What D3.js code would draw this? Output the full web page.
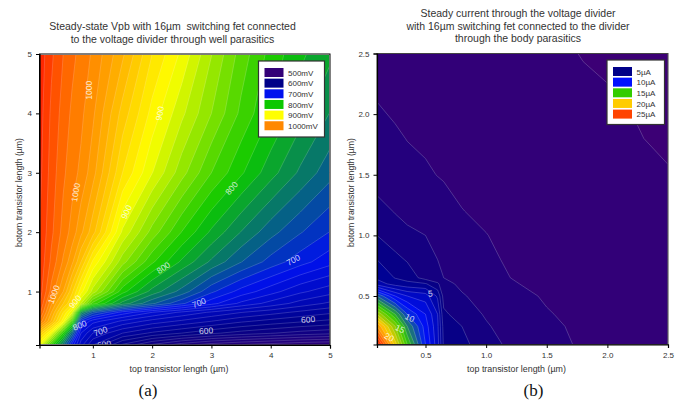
<!DOCTYPE html>
<html>
<head>
<meta charset="utf-8">
<script src="https://d3js.org/d3.v7.min.js"></script>
<style>
  html, body { margin: 0; padding: 0; background: #fff; }
  svg { display: block; }
  text { font-family: "Liberation Sans", sans-serif; fill: #333; white-space: pre; }
</style>
</head>
<body>
<div></div>
<script>
var width = 683;
var height = 403;

// panel (a): Vpb in mV, rows go from bottom length 0.1 up to 5
var topLengthsA = [0.1, 0.3, 0.5, 0.65, 0.8, 1, 1.5, 2, 2.5, 3, 3.5, 4, 4.5, 5];
var bottomLengthsA = [0.1, 0.3, 0.5, 0.65, 0.8, 1, 1.5, 2, 3, 4, 5];
var vpbValues = [
  895, 815, 750, 695, 655, 625, 585, 560, 542, 530, 523, 518, 513, 510,
  945, 895, 810, 745, 675, 650, 625, 610, 600, 590, 582, 576, 570, 566,
  1010, 960, 905, 825, 705, 680, 660, 645, 635, 625, 615, 608, 602, 597,
  1030, 975, 925, 890, 770, 730, 695, 675, 660, 648, 638, 630, 622, 615,
  1040, 990, 950, 925, 875, 820, 770, 740, 715, 692, 672, 658, 645, 635,
  1045, 1008, 975, 940, 905, 870, 805, 770, 745, 715, 695, 680, 665, 655,
  1048, 1022, 998, 978, 950, 910, 855, 815, 785, 760, 738, 720, 705, 692,
  1050, 1028, 1008, 995, 978, 955, 885, 845, 812, 785, 762, 742, 726, 712,
  1054, 1032, 1015, 1005, 997, 980, 925, 888, 855, 825, 802, 780, 760, 742,
  1056, 1035, 1020, 1010, 1003, 990, 945, 908, 878, 850, 822, 800, 780, 762,
  1058, 1040, 1025, 1016, 1008, 998, 965, 925, 897, 863, 832, 808, 790, 778
];
var levelsA = d3.range(475, 1075, 12.5);
var colorStopsA = [500, 600, 700, 800, 900, 1000, 1060];
var ticksA = [1, 2, 3, 4, 5];
var legendNamesA = ["500mV", "600mV", "700mV", "800mV", "900mV", "1000mV"];
var legendStopsA = [500, 600, 700, 800, 900, 1000];
var labelsA = [
  [0.93, 4.39, "1000"], [0.71, 2.67, "1000"], [0.34, 0.95, "1000"],
  [2.13, 4.0, "900"], [1.57, 2.34, "900"], [0.7, 0.83, "900"],
  [3.34, 2.74, "800"], [2.19, 1.4, "800"], [0.78, 0.43, "800"],
  [4.38, 1.53, "700"], [2.79, 0.81, "700"], [1.13, 0.33, "700"],
  [4.63, 0.53, "600"], [2.91, 0.34, "600"], [1.19, 0.11, "600"]
];

// panel (b): divider current in uA
var topLengthsB = [0.1, 0.25, 0.35, 0.5, 0.6, 0.65, 0.8, 1, 1.2, 1.5, 1.8, 2.1, 2.5];
var bottomLengthsB = [0.1, 0.25, 0.35, 0.5, 0.6, 0.65, 0.8, 1, 1.2, 1.5, 1.8, 2.1, 2.5];
var currentValues = [
  27, 19.5, 15, 10, 7.4, 4.8, 4.3, 3.4, 2.8, 2.25, 1.9, 1.75, 1.6,
  22, 17, 13, 9.5, 7.2, 4.6, 4.0, 3.1, 2.6, 2.15, 1.85, 1.7, 1.55,
  18, 14, 11, 9, 7, 4.2, 3.5, 2.9, 2.45, 2.05, 1.8, 1.65, 1.5,
  12, 9, 8, 7.5, 5.8, 3.6, 3.1, 2.6, 2.25, 1.92, 1.75, 1.6, 1.45,
  6.5, 5.6, 5.3, 5.1, 4.2, 3.3, 2.8, 2.4, 2.05, 1.85, 1.7, 1.55, 1.4,
  5.8, 4.95, 4.6, 3.6, 3.2, 3.0, 2.7, 2.3, 2.0, 1.8, 1.68, 1.52, 1.38,
  5, 4.3, 3.9, 3.3, 3, 2.8, 2.5, 2.15, 1.9, 1.7, 1.6, 1.45, 1.32,
  4, 3.4, 3.15, 3, 2.7, 2.6, 2.3, 2.02, 1.8, 1.6, 1.5, 1.35, 1.22,
  3.3, 2.95, 2.8, 2.6, 2.4, 2.3, 2.02, 1.85, 1.7, 1.52, 1.38, 1.25, 1.15,
  2.6, 2.35, 2.22, 2.12, 1.98, 1.93, 1.8, 1.65, 1.55, 1.38, 1.25, 1.15, 1.02,
  2.3, 2.1, 1.98, 1.85, 1.75, 1.7, 1.6, 1.5, 1.4, 1.28, 1.18, 1.05, 0.95,
  2.0, 1.85, 1.75, 1.65, 1.58, 1.55, 1.48, 1.4, 1.3, 1.2, 1.1, 1.02, 0.88,
  1.75, 1.65, 1.55, 1.48, 1.42, 1.4, 1.35, 1.28, 1.2, 1.12, 0.98, 0.9, 0.8
];
var levelsB = d3.range(0, 29, 1);
var colorStopsB = [0.8, 5, 10, 15, 20, 25, 27];
var ticksB = [0.5, 1.0, 1.5, 2.0, 2.5];
var legendNamesB = ["5µA", "10µA", "15µA", "20µA", "25µA"];
var legendStopsB = [5, 10, 15, 20, 25];
var labelsB = [
  [0.54, 0.52, "5"], [0.37, 0.32, "10"], [0.29, 0.23, "15"], [0.2, 0.16, "20"]
];

var svg = d3.select("div").append("svg")
  .attr("width", width)
  .attr("height", height);

function drawPanel(p) {
  var x = d3.scaleLinear().domain(p.domain).range([p.left, p.right]);
  var y = d3.scaleLinear().domain(p.domain).range([p.bottom, p.top]);
  var color = d3.scaleLinear().domain(p.stops).range(p.colors).clamp(true);

  // contour space has grid point i at i + 0.5, so map that back to lengths
  var gridX = d3.scaleLinear()
    .domain(p.xs.map(function(d, i) { return i + 0.5; }))
    .range(p.xs).clamp(true);
  var gridY = d3.scaleLinear()
    .domain(p.ys.map(function(d, i) { return i + 0.5; }))
    .range(p.ys).clamp(true);
  var path = d3.geoPath(d3.geoTransform({
    point: function(a, b) { this.stream.point(x(gridX(a)), y(gridY(b))); }
  }));

  var contours = d3.contours()
    .size([p.xs.length, p.ys.length])
    .thresholds(p.levels)(p.values);

  var step = p.levels[1] - p.levels[0];
  svg.append("clipPath").attr("id", p.id)
    .append("rect")
    .attr("x", p.left).attr("y", p.top)
    .attr("width", p.right - p.left).attr("height", p.bottom - p.top);

  var plot = svg.append("g").attr("clip-path", "url(#" + p.id + ")");

  plot.selectAll(".band")
    .data(contours)
    .enter().append("path")
    .attr("class", "band")
    .attr("d", path)
    .attr("fill", function(d) { return color(d.value + step / 2); })
    .attr("stroke", function(d) { return color(d.value + step / 2); })
    .attr("stroke-width", 0.3);

  plot.selectAll(".line")
    .data(contours)
    .enter().append("path")
    .attr("class", "line")
    .attr("d", path)
    .attr("fill", "none")
    .attr("stroke", "#fff")
    .attr("stroke-opacity", p.lineOpacity)
    .attr("stroke-width", 0.5);

  plot.selectAll(".contour-label")
    .data(p.labels)
    .enter().append("text")
    .attr("class", "contour-label")
    .attr("transform", function(d, i) {
      return "translate(" + x(d[0]) + "," + y(d[1]) + ") rotate(" + p.angles[i] + ")";
    })
    .attr("text-anchor", "middle")
    .attr("dy", "0.35em")
    .style("font-size", "8.5px")
    .style("fill", "#fff")
    .style("fill-opacity", 0.8)
    .text(function(d) { return d[2]; });

  // frame
  svg.append("rect")
    .attr("x", p.left).attr("y", p.top)
    .attr("width", p.right - p.left).attr("height", p.bottom - p.top)
    .attr("fill", "none")
    .attr("stroke", p.frame)
    .attr("stroke-width", 1);

  var xAxis = svg.append("g")
    .attr("transform", "translate(0," + p.bottom + ")")
    .call(d3.axisBottom(x).tickValues(p.ticks).tickFormat(d3.format(p.format)).tickSize(3.5).tickPadding(4));
  var yAxis = svg.append("g")
    .attr("transform", "translate(" + p.left + ",0)")
    .call(d3.axisLeft(y).tickValues(p.ticks).tickFormat(d3.format(p.format)).tickSize(3.5).tickPadding(4));
  [xAxis, yAxis].forEach(function(axis) {
    axis.selectAll("text").style("font-size", "8px").style("font-family", "Liberation Sans");
    axis.attr("font-family", null);
    axis.select(".domain").attr("stroke", "#000").attr("stroke-width", 1.2);
  });

  svg.append("text")
    .attr("x", p.xLabelX).attr("y", 372)
    .attr("text-anchor", "middle")
    .style("font-size", "8.9px")
    .text("top transistor length (µm)");
  svg.append("text")
    .attr("transform", "translate(" + p.yLabelX + ",192.5) rotate(-90)")
    .attr("text-anchor", "middle")
    .style("font-size", "8.7px")
    .text("botom transistor length (µm)");

  p.title.forEach(function(line, i) {
    svg.append("text")
      .attr("x", p.titleX).attr("y", p.titleY + i * 12.5)
      .attr("text-anchor", "middle")
      .style("font-size", "10.5px")
      .text(line);
  });

  svg.append("text")
    .attr("x", p.captionX).attr("y", 395.5)
    .attr("text-anchor", "middle")
    .style("font-family", "Liberation Serif")
    .style("font-size", "17px")
    .style("fill", "#111")
    .text(p.caption);

  // legend
  var legend = svg.append("g")
    .attr("transform", "translate(" + p.legend[0] + "," + p.legend[1] + ")");
  legend.append("rect")
    .attr("width", p.legend[2]).attr("height", p.legend[3])
    .attr("fill", "#fff")
    .attr("stroke", "#333")
    .attr("stroke-width", 1.2);
  var row = legend.selectAll(".row")
    .data(p.legendNames)
    .enter().append("g")
    .attr("class", "row")
    .attr("transform", function(d, i) { return "translate(" + 6 + "," + (7 + i * 10.65) + ")"; });
  row.append("rect")
    .attr("width", 19).attr("height", 9)
    .attr("fill", function(d, i) { return color(p.legendStops[i]); });
  row.append("text")
    .attr("x", 23.5).attr("y", 7.6)
    .style("font-size", "8px")
    .text(function(d) { return d; });
}

drawPanel({
  id: "clip-a", left: 39.5, right: 330, top: 54, bottom: 345,
  domain: [0.1, 5], xs: topLengthsA, ys: bottomLengthsA, values: vpbValues,
  levels: levelsA, stops: colorStopsA,
  colors: ["#330077", "#000088", "#0011ee", "#0cc800", "#ffff00", "#ff8800", "#ff2000"],
  labels: labelsA, angles: [-90, -80, -70, -80, -65, -50, -50, -35, -22, -28, -22, -20, -5, -5, -10],
  lineOpacity: 0.35, frame: "#000", ticks: ticksA, format: "d",
  xLabelX: 179, yLabelX: 22, titleX: 172.5, titleY: 30,
  title: ["Steady-state Vpb with 16µm  switching fet connected", "to the voltage divider through well parasitics"],
  caption: "(a)", captionX: 148,
  legend: [258.5, 61, 66, 76], legendNames: legendNamesA, legendStops: legendStopsA
});

drawPanel({
  id: "clip-b", left: 377, right: 668, top: 53.5, bottom: 344.5,
  domain: [0.1, 2.5], xs: topLengthsB, ys: bottomLengthsB, values: currentValues,
  levels: levelsB, stops: colorStopsB,
  colors: ["#3c0075", "#000088", "#0011ff", "#33cc00", "#ffcc00", "#ff4400", "#ff2000"],
  labels: labelsB, angles: [-5, 25, 25, 30],
  lineOpacity: 0.4, frame: "#444", ticks: ticksB, format: ".1f",
  xLabelX: 516.5, yLabelX: 354, titleX: 518, titleY: 17,
  title: ["Steady current through the voltage divider", "with 16µm switching fet connected to the divider", "through the body parasitics"],
  caption: "(b)", captionX: 533.5,
  legend: [607, 60, 57.5, 64.5], legendNames: legendNamesB, legendStops: legendStopsB
});
</script>
</body>
</html>
